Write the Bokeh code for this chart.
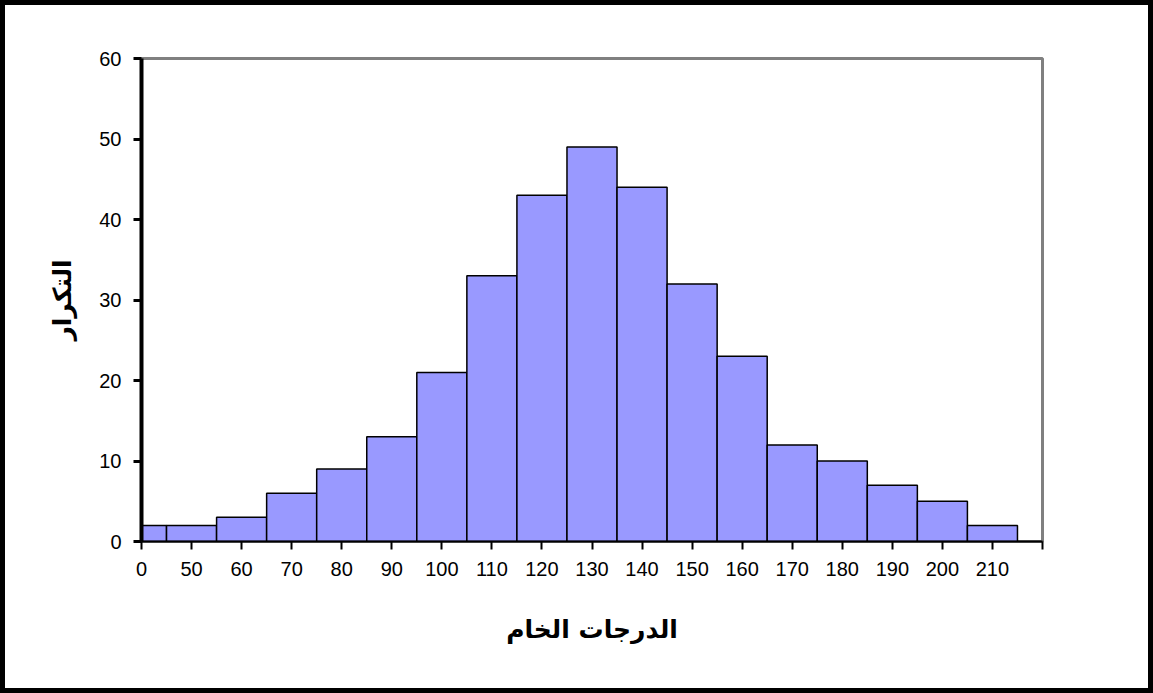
from bokeh.plotting import figure
from bokeh.models import FixedTicker, Range1d
from bokeh.embed import file_html
from bokeh.resources import INLINE

# ---- data ----
categories = ["0", "50", "60", "70", "80", "90", "100", "110", "120", "130",
              "140", "150", "160", "170", "180", "190", "200", "210"]
frequencies = [2, 2, 3, 6, 9, 13, 21, 33, 43, 49, 44, 32, 23, 12, 10, 7, 5, 2]
y_ticks = [0, 10, 20, 30, 40, 50, 60]
x_title = "الدرجات الخام"
y_title = "التكرار"

n = len(categories)
positions = list(range(n))

BW = 5  # outer border width (css, drawn inside the host box)
p = figure(width=1153, height=693,
           output_backend="svg", toolbar_location=None,
           x_range=Range1d(0, n), y_range=Range1d(0, 60),
           min_border_left=141 - BW, min_border_right=111 + BW,
           min_border_top=58 - BW, min_border_bottom=152 + BW)
p.styles = {"margin": "0px", "border": f"{BW}px solid black"}

p.vbar(x=positions, top=frequencies, width=1.0, bottom=0,
       fill_color="#9999FF", line_color="black", line_width=1.5)

p.xgrid.visible = False
p.ygrid.visible = False
p.outline_line_color = "#808080"
p.outline_line_width = 3
p.background_fill_color = "white"
p.border_fill_color = "white"

# x axis
xa = p.xaxis[0]
xa.ticker = FixedTicker(ticks=list(range(n + 1)))
overrides = {i: c for i, c in enumerate(categories)}
overrides[n] = ""
xa.major_label_overrides = overrides
xa.minor_tick_line_color = None
xa.major_tick_in = 0
xa.major_tick_out = 8
xa.major_tick_line_color = "black"
xa.major_tick_line_width = 2
xa.axis_line_color = "black"
xa.axis_line_width = 2
xa.major_label_text_font = "Liberation Sans"
xa.major_label_text_font_size = "20px"
xa.major_label_text_color = "black"
xa.major_label_standoff = 12
xa.axis_label = x_title
xa.axis_label_text_font = "DejaVu Sans"
xa.axis_label_text_font_style = "bold"
xa.axis_label_text_font_size = "25px"
xa.axis_label_text_color = "black"
xa.axis_label_standoff = 36

# y axis
ya = p.yaxis[0]
ya.ticker = FixedTicker(ticks=y_ticks)
ya.minor_tick_line_color = None
ya.major_tick_in = 0
ya.major_tick_out = 8
ya.major_tick_line_color = "black"
ya.major_tick_line_width = 3
ya.axis_line_color = "black"
ya.axis_line_width = 4
ya.major_label_text_font = "Liberation Sans"
ya.major_label_text_font_size = "20px"
ya.major_label_text_color = "black"
ya.major_label_standoff = 12
ya.axis_label = y_title
ya.axis_label_text_font = "DejaVu Sans"
ya.axis_label_text_font_style = "bold"
ya.axis_label_text_font_size = "25px"
ya.axis_label_text_color = "black"
ya.axis_label_standoff = 19

open("out.html", "w").write(file_html(p, INLINE))
